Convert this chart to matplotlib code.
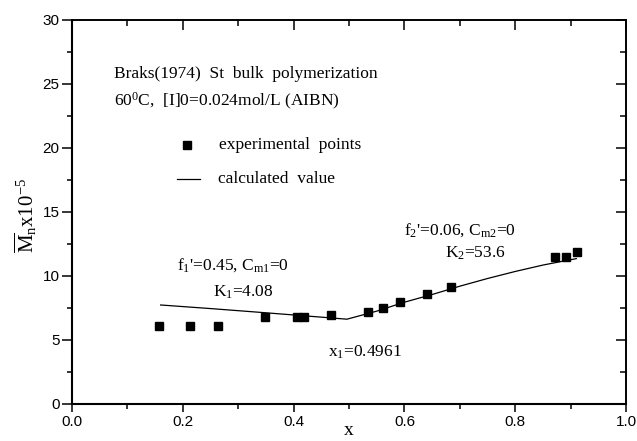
import numpy as np
import matplotlib
matplotlib.use("Agg")
import matplotlib.pyplot as plt
from matplotlib.ticker import MultipleLocator

plt.rcParams['mathtext.fontset'] = 'custom'
plt.rcParams['mathtext.rm'] = 'Liberation Serif'
plt.rcParams['mathtext.it'] = 'Liberation Serif:italic'

# measured number-average molecular weight (x 10^-5) vs conversion
exp_x = [0.157, 0.213, 0.264, 0.348, 0.406, 0.419, 0.467, 0.534, 0.561,
         0.592, 0.641, 0.684, 0.872, 0.892, 0.912]
exp_mn = [6.05, 6.05, 6.05, 6.8, 6.8, 6.8, 6.95, 7.2, 7.47,
          7.95, 8.57, 9.17, 11.5, 11.5, 11.85]

# model curve, kink at x1 = 0.4961
calc_x = [0.16, 0.25, 0.35, 0.45, 0.4961, 0.55, 0.60, 0.65, 0.70,
          0.75, 0.80, 0.85, 0.91]
calc_mn = [7.73, 7.45, 7.12, 6.78, 6.62, 7.25, 7.95, 8.55, 9.2,
           9.8, 10.35, 10.85, 11.35]

serif = 'Liberation Serif'

fig = plt.figure(figsize=(6.37, 4.41), dpi=100)
ax = fig.add_axes([0.113, 0.084, 0.870, 0.871])

ax.plot(calc_x, calc_mn, color='black', lw=0.9)
ax.plot(exp_x, exp_mn, ls='none', marker='s', ms=6, color='black')

ax.set_xlim(0, 1.0)
ax.set_ylim(0, 30)
ax.xaxis.set_major_locator(MultipleLocator(0.2))
ax.xaxis.set_minor_locator(MultipleLocator(0.1))
ax.yaxis.set_major_locator(MultipleLocator(5))
ax.yaxis.set_minor_locator(MultipleLocator(2.5))
ax.set_xticks([0.0, 0.2, 0.4, 0.6, 0.8, 1.0])
ax.set_xticklabels(['0.0', '0.2', '0.4', '0.6', '0.8', '1.0'])

for side in ['left', 'bottom']:
    ax.spines[side].set_linewidth(1.5)
for side in ['top', 'right']:
    ax.spines[side].set_linewidth(1.2)

ax.tick_params(axis='both', which='both', direction='out', width=1.1,
               labelsize=11, labelfontfamily='Liberation Sans')
ax.tick_params(axis='both', which='major', length=6, pad=2)
ax.tick_params(axis='both', which='minor', length=3.5)
ax.tick_params(axis='y', which='major', length=7)

# mirrored ticks on the top and right, pointing inward
axt = ax.secondary_xaxis('top')
axt.xaxis.set_major_locator(MultipleLocator(0.2))
axt.xaxis.set_minor_locator(MultipleLocator(0.1))
axt.tick_params(which='both', direction='in', labeltop=False, width=1.1)
axt.tick_params(which='major', length=7)
axt.tick_params(which='minor', length=4)
axt.spines['top'].set_linewidth(1.2)

axr = ax.secondary_yaxis('right')
axr.yaxis.set_major_locator(MultipleLocator(5))
axr.yaxis.set_minor_locator(MultipleLocator(2.5))
axr.tick_params(which='both', direction='in', labelright=False, width=1.1)
axr.tick_params(which='major', length=7)
axr.tick_params(which='minor', length=4)
axr.spines['right'].set_linewidth(1.2)

ax.set_xlabel('x', fontsize=14, family=serif, labelpad=-5)
fig.text(0.040, 0.512, r'$\overline{\mathrm{M}}_\mathrm{n}\mathrm{x10}^{-5}$',
         rotation=90, fontsize=15, family=serif, ha='center', va='center')

fs = 12.5
ax.text(0.075, 25.8, 'Braks(1974)  St  bulk  polymerization',
        fontsize=fs, family=serif, va='center')
ax.text(0.075, 23.6, r'60$^\mathrm{0}$C,  [I]0=0.024mol/L (AIBN)',
        fontsize=fs, family=serif, va='center')

# hand-placed legend
ax.plot([0.207], [20.2], ls='none', marker='s', ms=6, color='black')
ax.text(0.265, 20.2, 'experimental  points', fontsize=fs, family=serif, va='center')
ax.plot([0.19, 0.231], [17.6, 17.6], color='black', lw=0.9)
ax.text(0.264, 17.6, 'calculated  value', fontsize=fs, family=serif, va='center')

ax.text(0.19, 10.86, r"f$_\mathrm{1}$'=0.45, C$_\mathrm{m1}$=0",
        fontsize=fs, family=serif, va='center')
ax.text(0.255, 8.7, r'K$_\mathrm{1}$=4.08', fontsize=fs, family=serif, va='center')
ax.text(0.462, 4.0, r'x$_\mathrm{1}$=0.4961', fontsize=fs, family=serif, va='center')
ax.text(0.60, 13.6, r"f$_\mathrm{2}$'=0.06, C$_\mathrm{m2}$=0",
        fontsize=fs, family=serif, va='center')
ax.text(0.673, 11.8, r'K$_\mathrm{2}$=53.6', fontsize=fs, family=serif, va='center')

fig.savefig('out.png', dpi=100)
